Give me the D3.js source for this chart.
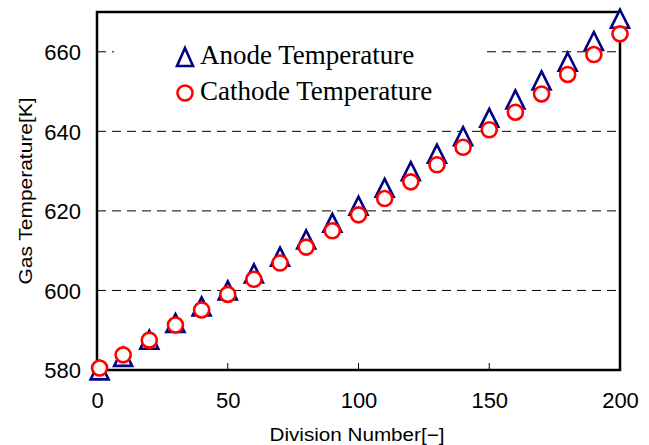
<!DOCTYPE html>
<html>
<head>
<meta charset="utf-8">
<script src="https://cdn.jsdelivr.net/npm/d3@7"></script>
<style>
  html, body { margin: 0; padding: 0; background: #fff; }
  svg { display: block; }
</style>
</head>
<body>
<svg id="chart" width="649" height="445"></svg>
<script>
const divisions = [1, 10, 20, 30, 40, 50, 60, 70, 80, 90, 100, 110, 120, 130, 140, 150, 160, 170, 180, 190, 200];
const anodeTemp = [579.9, 583.3, 587.6, 591.8, 596.0, 600.0, 604.3, 608.5, 612.8, 617.0, 621.3, 625.8, 630.0, 634.4, 638.8, 643.4, 648.0, 652.8, 657.5, 662.7, 668.3];
const cathodeTemp = [580.5, 583.8, 587.5, 591.3, 595.1, 599.0, 602.8, 606.9, 610.9, 615.0, 619.0, 623.1, 627.3, 631.6, 636.0, 640.4, 644.8, 649.4, 654.3, 659.3, 664.5];
const xTicks = [0, 50, 100, 150, 200];
const yTicks = [580, 600, 620, 640, 660];
const gridValues = [600, 620, 640, 660];
const seriesNames = ["Anode Temperature", "Cathode Temperature"];
const xTitle = "Division Number[\u2212]";
const yTitle = "Gas Temperature[K]";

const svg = d3.select("#chart");
const pL = 97, pR = 620, pT = 12, pB = 370;
const x = d3.scaleLinear().domain([0, 200]).range([pL, pR]);
const y = d3.scaleLinear().domain([580, 670]).range([pB, pT]);

// gridlines
svg.append("g").selectAll("line").data(gridValues).join("line")
  .attr("x1", pL).attr("x2", pR)
  .attr("y1", d => y(d)).attr("y2", d => y(d))
  .attr("stroke", "#000").attr("stroke-width", 1)
  .attr("stroke-dasharray", "9,6");

// legend box (white background, covers gridline)
const lg = svg.append("g");
lg.append("rect").attr("x", 114).attr("y", 30).attr("width", 373).attr("height", 84).attr("fill", "#fff");

// x axis
const xAxis = d3.axisBottom(x).tickValues(xTicks).tickSize(0).tickPadding(22).tickFormat(d3.format("d"));
const gx = svg.append("g").attr("transform", `translate(0,${pB})`).call(xAxis);
gx.select(".domain").remove();
gx.selectAll("text").attr("font-family", "Liberation Sans, Arial, sans-serif").attr("font-size", 22).attr("fill", "#000");

// inner x ticks
svg.append("g").selectAll("line").data(xTicks.slice(1, -1)).join("line")
  .attr("x1", d => x(d)).attr("x2", d => x(d))
  .attr("y1", pB).attr("y2", pB - 7)
  .attr("stroke", "#000").attr("stroke-width", 1);

// y axis
const yAxis = d3.axisLeft(y).tickValues(yTicks).tickSize(0).tickPadding(16).tickFormat(d3.format("d"));
const gy = svg.append("g").attr("transform", `translate(${pL},0)`).call(yAxis);
gy.select(".domain").remove();
gy.selectAll("text").attr("font-family", "Liberation Sans, Arial, sans-serif").attr("font-size", 22).attr("fill", "#000").attr("dy", "0.36em");

// frame
svg.append("rect").attr("x", pL).attr("y", pT).attr("width", pR - pL).attr("height", pB - pT)
  .attr("fill", "none").attr("stroke", "#000").attr("stroke-width", 2.5);

// triangle path generator (bbox-centered)
const triW = 18, triH = 18;
function tri(cx, cy) {
  return `M${cx},${cy - triH / 2}L${cx + triW / 2},${cy + triH / 2}L${cx - triW / 2},${cy + triH / 2}Z`;
}

// anode series
svg.append("g").selectAll("path").data(divisions).join("path")
  .attr("d", (d, i) => tri(x(d), y(anodeTemp[i])))
  .attr("fill", "#fff").attr("stroke", "#000080").attr("stroke-width", 2.6)
  .attr("stroke-linejoin", "miter");

// cathode series
svg.append("g").selectAll("circle").data(divisions).join("circle")
  .attr("cx", d => x(d)).attr("cy", (d, i) => y(cathodeTemp[i]))
  .attr("r", 7.5)
  .attr("fill", "#fff").attr("stroke", "#ff0000").attr("stroke-width", 2.6);

// legend entries
lg.append("path").attr("d", `M185,${48}L${193},${66}L${177},${66}Z`)
  .attr("fill", "#fff").attr("stroke", "#000080").attr("stroke-width", 2.6);
lg.append("circle").attr("cx", 185).attr("cy", 93).attr("r", 7.5)
  .attr("fill", "#fff").attr("stroke", "#ff0000").attr("stroke-width", 2.6);
lg.selectAll("text").data(seriesNames).join("text")
  .attr("x", 200).attr("y", (d, i) => 64 + i * 36)
  .attr("font-family", "Liberation Serif, Times New Roman, serif")
  .attr("font-size", 27).attr("fill", "#000")
  .text(d => d);

// axis titles
svg.append("text").attr("x", 357).attr("y", 441).attr("text-anchor", "middle")
  .attr("font-family", "Liberation Sans, Arial, sans-serif").attr("font-size", 18)
  .attr("textLength", 175).attr("lengthAdjust", "spacingAndGlyphs")
  .text(xTitle);
svg.append("text").attr("transform", "translate(32,191) rotate(-90)").attr("text-anchor", "middle")
  .attr("font-family", "Liberation Sans, Arial, sans-serif").attr("font-size", 18)
  .attr("textLength", 187).attr("lengthAdjust", "spacingAndGlyphs")
  .text(yTitle);
</script>
</body>
</html>
